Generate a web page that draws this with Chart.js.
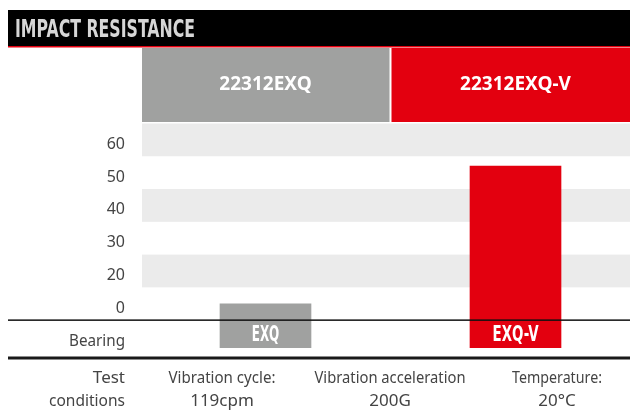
<!DOCTYPE html>
<html>
<head>
<meta charset="utf-8">
<script src="https://cdn.jsdelivr.net/npm/chart.js@4.4.1/dist/chart.umd.min.js"></script>
<style>
  html, body { margin: 0; padding: 0; background: #fff; }
  .chart-container { position: relative; width: 630px; height: 415px; }
</style>
</head>
<body>
<section class="chart-container">
  <canvas id="bar-chart"></canvas>
</section>
<script>
const chartTitle = "IMPACT RESISTANCE";
const bearings = ["22312EXQ", "22312EXQ-V"];
const bearingShort = ["EXQ", "EXQ-V"];
const impactValues = [0, 52];
const yTickLabels = [0, 20, 30, 40, 50, 60];
const conditionNames = ["Vibration cycle:", "Vibration acceleration", "Temperature:"];
const conditionValues = ["119cpm", "200G", "20°C"];

const GRAY = "#a0a1a0";
const RED = "#e3000f";
const TEXT = "#444444";
const Y_MIN = -1.35;
const Y_MAX = 5.5;

// the axis is broken: ticks are evenly spaced, values in between are interpolated
function toAxis(v) {
  if (v <= yTickLabels[0]) return 0;
  for (let i = 0; i < yTickLabels.length - 1; i++) {
    const a = yTickLabels[i], b = yTickLabels[i + 1];
    if (v <= b) return i + (v - a) / (b - a);
  }
  return yTickLabels.length - 1;
}

const decorations = {
  id: "decorations",
  beforeDatasetsDraw(chart) {
    const { ctx, chartArea: area, scales: { x, y } } = chart;
    ctx.save();

    // title bar
    ctx.fillStyle = "#000";
    ctx.fillRect(8, 10, 622, 36);
    ctx.fillStyle = RED;
    ctx.fillRect(8, 46, 622, 1.5);
    ctx.fillStyle = "#d6d6d6";
    ctx.font = 'bold 24px "Liberation Sans Narrow", "DejaVu Sans Condensed", sans-serif';
    ctx.textBaseline = "alphabetic";
    ctx.textAlign = "left";
    ctx.fillText(chartTitle, 15, 37, 180);

    // bearing header boxes
    const split = x.getPixelForValue(0.5);
    const boxes = [[area.left, split - 1], [split + 1, area.right]];
    ctx.font = 'bold 19px "Noto Sans", sans-serif';
    ctx.textAlign = "center";
    ctx.textBaseline = "middle";
    boxes.forEach(([l, r], i) => {
      ctx.fillStyle = i === 0 ? GRAY : RED;
      ctx.fillRect(l, 48, r - l, 74);
      ctx.fillStyle = "#fff";
      ctx.fillText(bearings[i], x.getPixelForValue(i), 85);
    });

    // grey bands
    ctx.fillStyle = "#ebebeb";
    for (let i = yTickLabels.length - 1; i >= 0; i -= 2) {
      const top = y.getPixelForValue(i + 0.5);
      const bot = y.getPixelForValue(i - 0.5);
      ctx.fillRect(area.left, top, area.right - area.left, bot - top);
    }
    ctx.restore();
  },
  afterDatasetsDraw(chart) {
    const { ctx, scales: { y } } = chart;
    const meta = chart.getDatasetMeta(0);
    ctx.save();

    // axis base line
    const base = y.getPixelForValue(-0.5);
    ctx.fillStyle = "#111";
    ctx.fillRect(8, base - 0.75, 622, 1.5);

    // bar labels
    ctx.fillStyle = "#fff";
    ctx.font = 'bold 21px "Liberation Sans Narrow", "DejaVu Sans Condensed", sans-serif';
    ctx.textAlign = "center";
    ctx.textBaseline = "middle";
    meta.data.forEach((bar, i) => {
      ctx.fillText(bearingShort[i], bar.x, 336, bearingShort[i].length * 9.2);
    });

    // bottom rule
    ctx.fillStyle = "#1a1a1a";
    ctx.fillRect(8, 356.5, 622, 3);

    // row labels
    ctx.fillStyle = TEXT;
    ctx.font = '17px "Noto Sans", sans-serif';
    ctx.textAlign = "right";
    ctx.fillText("Bearing", 125, 341, 56);
    ctx.fillText("Test", 125, 378, 37);
    ctx.fillText("conditions", 125, 401, 76);

    // test conditions
    const cols = [222, 390, 557];
    const widths = [107, 151, 90];
    ctx.textAlign = "center";
    conditionNames.forEach((name, i) => {
      ctx.fillText(name, cols[i], 378, widths[i]);
      ctx.fillText(conditionValues[i], cols[i], 401);
    });
    ctx.restore();
  }
};

const canvas = document.getElementById("bar-chart");

new Chart(canvas, {
  type: "bar",
  data: {
    datasets: [
      {
        data: bearings.map((b, i) => ({ x: i, y: [Y_MIN, toAxis(impactValues[i])] })),
        backgroundColor: [GRAY, RED],
        borderWidth: 0,
        barThickness: 91,
      },
    ],
  },
  options: {
    responsive: true,
    maintainAspectRatio: false,
    animation: false,
    events: [],
    layout: {
      padding: { left: 0, right: 0, top: 123.5, bottom: 67 },
    },
    plugins: {
      legend: { display: false },
      tooltip: { enabled: false },
      title: { display: false },
    },
    scales: {
      x: {
        type: "linear",
        offset: false,
        min: -0.494,
        max: 1.458,
        display: false,
      },
      y: {
        min: Y_MIN,
        max: Y_MAX,
        border: { display: false },
        grid: { display: false, drawTicks: false },
        ticks: {
          padding: 17,
          color: TEXT,
          // blank first line nudges the digits down onto the band centre
          font: { family: "Noto Sans", size: 16, lineHeight: 0.55 },
          callback: (v) => ["", String(yTickLabels[v])],
        },
        afterBuildTicks: (scale) => {
          scale.ticks = yTickLabels.map((_, i) => ({ value: i }));
        },
        afterFit: (scale) => {
          scale.width = 142;
        },
      },
    },
  },
  plugins: [decorations],
});
</script>
</body>
</html>
